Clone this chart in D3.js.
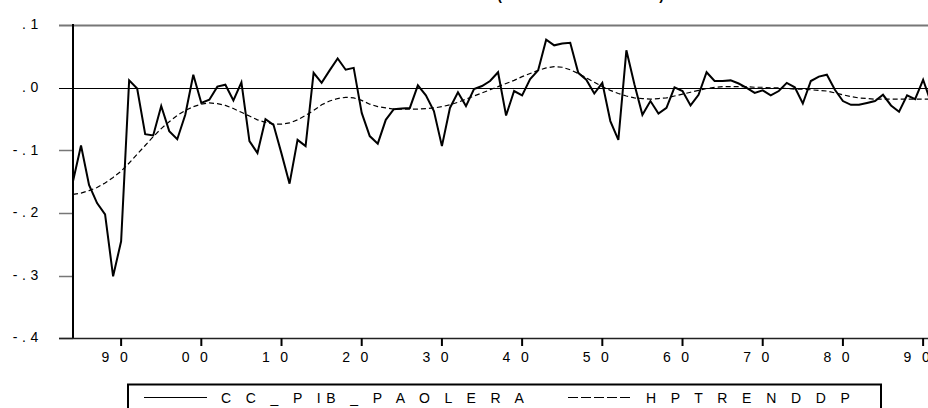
<!DOCTYPE html>
<html>
<head>
<meta charset="utf-8">
<script src="https://cdn.jsdelivr.net/npm/d3@7"></script>
<style>
body { margin: 0; background: #fff; }
svg { display: block; }
text { font-family: Arial, 'Liberation Sans', sans-serif; fill: #000; }
</style>
</head>
<body>
<svg></svg>
<script>
// yearly observations, first one is 1884
var firstYear = 1884
var cycle = [
    -0.149, -0.092, -0.155, -0.184, -0.202, -0.301, -0.245, 0.012, -0.001, -0.074,
    -0.076, -0.029, -0.069, -0.082, -0.043, 0.021, -0.024, -0.019, 0.002, 0.005,
    -0.020, 0.009, -0.085, -0.104, -0.050, -0.059, -0.105, -0.153, -0.083, -0.093,
    0.024, 0.008, 0.028, 0.047, 0.029, 0.032, -0.040, -0.077, -0.089, -0.051,
    -0.034, -0.033, -0.032, 0.004, -0.012, -0.037, -0.093, -0.032, -0.007, -0.029,
    -0.002, 0.003, 0.011, 0.025, -0.044, -0.005, -0.012, 0.014, 0.028, 0.077,
    0.068, 0.071, 0.072, 0.024, 0.013, -0.009, 0.008, -0.053, -0.083, 0.060,
    0.006, -0.043, -0.021, -0.041, -0.032, 0.001, -0.005, -0.028, -0.011, 0.025,
    0.011, 0.011, 0.012, 0.007, 0.000, -0.008, -0.004, -0.012, -0.005, 0.008,
    0.001, -0.025, 0.011, 0.018, 0.021, -0.003, -0.021, -0.027, -0.027, -0.024,
    -0.021, -0.011, -0.028, -0.038, -0.012, -0.018, 0.013, -0.024
]
var trend = [
    -0.170, -0.168, -0.164, -0.159, -0.152, -0.143, -0.133, -0.120, -0.106, -0.092,
    -0.078, -0.065, -0.054, -0.044, -0.036, -0.030, -0.026, -0.024, -0.025, -0.028,
    -0.033, -0.039, -0.045, -0.051, -0.055, -0.058, -0.058, -0.056, -0.051, -0.044,
    -0.036, -0.027, -0.021, -0.017, -0.015, -0.016, -0.020, -0.026, -0.030, -0.032,
    -0.034, -0.034, -0.034, -0.034, -0.033, -0.032, -0.030, -0.027, -0.023, -0.018,
    -0.013, -0.008, -0.003, 0.002, 0.007, 0.012, 0.018, 0.023, 0.028, 0.032,
    0.034, 0.033, 0.029, 0.023, 0.016, 0.009, 0.002, -0.004, -0.009, -0.013,
    -0.016, -0.017, -0.018, -0.017, -0.016, -0.013, -0.010, -0.007, -0.004, -0.001,
    0.001, 0.002, 0.002, 0.002, 0.002, 0.001, 0.001, 0.000, 0.000, -0.001,
    -0.002, -0.002, -0.003, -0.004, -0.005, -0.008, -0.011, -0.014, -0.016, -0.017,
    -0.018, -0.018, -0.018, -0.018, -0.018, -0.018, -0.018, -0.018
]
var yTicks = [0.1, 0, -0.1, -0.2, -0.3, -0.4]
var yTickLabels = ['.1', '.0', '-.1', '-.2', '-.3', '-.4']
var xTicks = [1890, 1900, 1910, 1920, 1930, 1940, 1950, 1960, 1970, 1980, 1990]
var xTickLabels = ['90', '00', '10', '20', '30', '40', '50', '60', '70', '80', '90']
var legendLabels = ['C C _ P IB _ P A O L E R A', 'H P T R E N D D P']
var title = 'Hodrick-Prescott Filter (lambda=100)'

var width = 928
var height = 408
var svg = d3.select('svg').attr('width', width).attr('height', height)

var data = cycle.map(function (v, i) {
    return { year: firstYear + i, cycle: v, trend: trend[i] }
})

var x = d3.scaleLinear()
    .domain([firstYear, firstYear + cycle.length - 1])
    .range([73, 73 + (cycle.length - 1) * 8.02])
var y = d3.scaleLinear().domain([-0.4, 0.1]).range([338.3, 25.3])

// title sits mostly above the picture, only the brackets peek in
svg.append('text')
    .attr('x', 671)
    .attr('y', 0)
    .attr('text-anchor', 'end')
    .attr('font-size', 14)
    .attr('font-weight', 'bold')
    .attr('letter-spacing', 7)
    .text(title)

// y axis: gray ticks, the zero one runs across
var yAxis = svg.append('g').attr('class', 'y-axis')
yAxis.selectAll('line')
    .data(yTicks)
    .enter().append('line')
    .attr('x1', 59)
    .attr('x2', function (d) { return d === 0 || d === 0.1 ? width : 73 })
    .attr('y1', function (d) { return Math.round(y(d)) + 0.5 })
    .attr('y2', function (d) { return Math.round(y(d)) + 0.5 })
    .attr('stroke', function (d) { return d === 0 ? '#000' : '#777' })
    .attr('stroke-width', function (d) { return d === 0 ? 1 : (d === 0.1 ? 2 : 1.5) })
yAxis.selectAll('text')
    .data(yTicks)
    .enter().append('text')
    .attr('x', 43)
    .attr('y', function (d) { return y(d) + 4 })
    .attr('text-anchor', 'end')
    .attr('font-size', 14)
    .attr('letter-spacing', 4.6)
    .text(function (d, i) { return yTickLabels[i] })

// frame: left axis and bottom axis
svg.append('line')
    .attr('x1', 73).attr('x2', 73)
    .attr('y1', 24).attr('y2', 339)
    .attr('stroke', '#000').attr('stroke-width', 2)
svg.append('line')
    .attr('x1', 59).attr('x2', width)
    .attr('y1', 338.5).attr('y2', 338.5)
    .attr('stroke', '#222').attr('stroke-width', 1.5)

var xAxis = svg.append('g').attr('class', 'x-axis')
xAxis.selectAll('line')
    .data(xTicks)
    .enter().append('line')
    .attr('x1', function (d) { return x(d) })
    .attr('x2', function (d) { return x(d) })
    .attr('y1', 338).attr('y2', 346)
    .attr('stroke', '#000').attr('stroke-width', 2)
xAxis.selectAll('text')
    .data(xTicks)
    .enter().append('text')
    .attr('x', function (d) { return x(d) - 19.5 })
    .attr('y', 361.5)
    .attr('font-size', 14)
    .attr('letter-spacing', 10.5)
    .text(function (d, i) { return xTickLabels[i] })

// series
var lineCycle = d3.line()
    .x(function (d) { return x(d.year) })
    .y(function (d) { return y(d.cycle) })
var lineTrend = d3.line()
    .x(function (d) { return x(d.year) })
    .y(function (d) { return y(d.trend) })

svg.append('path')
    .datum(data)
    .attr('d', lineTrend)
    .attr('fill', 'none')
    .attr('stroke', '#000')
    .attr('stroke-width', 1.2)
    .attr('stroke-dasharray', '5,3')
svg.append('path')
    .datum(data)
    .attr('d', lineCycle)
    .attr('fill', 'none')
    .attr('stroke', '#000')
    .attr('stroke-width', 2)
    .attr('stroke-linejoin', 'miter')

// legend box, its bottom is cut by the picture
var legend = svg.append('g').attr('class', 'legend')
legend.append('path')
    .attr('d', 'M128,' + height + 'V384.5H881V' + height)
    .attr('fill', 'none')
    .attr('stroke', '#000')
    .attr('stroke-width', 2)
legend.append('line')
    .attr('x1', 144).attr('x2', 207)
    .attr('y1', 397.5).attr('y2', 397.5)
    .attr('stroke', '#000').attr('stroke-width', 1)
legend.append('line')
    .attr('x1', 568).attr('x2', 631)
    .attr('y1', 397.5).attr('y2', 397.5)
    .attr('stroke', '#000').attr('stroke-width', 1)
    .attr('stroke-dasharray', '10,3')
legend.selectAll('text')
    .data(legendLabels)
    .enter().append('text')
    .attr('x', function (d, i) { return i === 0 ? 221 : 646 })
    .attr('y', 403)
    .attr('font-size', 14)
    .attr('letter-spacing', 5.4)
    .text(function (d) { return d })
</script>
</body>
</html>
